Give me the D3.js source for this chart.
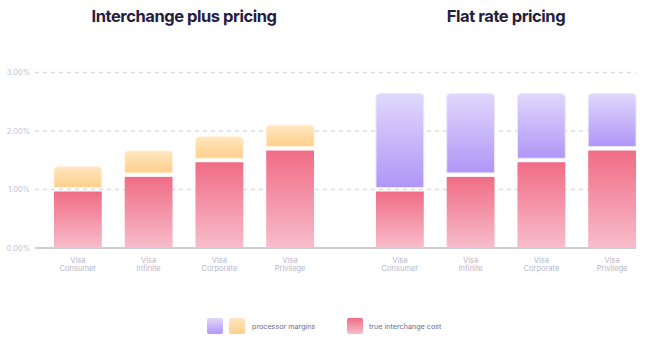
<!DOCTYPE html>
<html><head><meta charset="utf-8">
<script src="https://cdn.jsdelivr.net/npm/d3@7"></script>
<style>html,body{margin:0;padding:0;background:#fff;}svg{display:block;font-family:Inter,"Open Sans",sans-serif;}</style>
</head><body>
<svg id="c" width="652" height="347"></svg>
<script>
const categories = [["Visa","Consumer"],["Visa","Infinite"],["Visa","Corporate"],["Visa","Privilege"]];
const interchange = [1.0, 1.25, 1.5, 1.7];
const marginsPlus = [0.39, 0.41, 0.4, 0.4];
const marginsFlat = [1.64, 1.39, 1.14, 0.94];
const yTicks = [0, 1, 2, 3];
const titles = ["Interchange plus pricing", "Flat rate pricing"];
const legendItems = ["processor margins", "true interchange cost"];

const svg = d3.select("#c");
const y = d3.scaleLinear().domain([0, 3]).range([248, 72.5]);
const keys = categories.map(c => c.join(" "));
const xL = d3.scaleBand().domain(keys).range([42.5, 325.5]).paddingInner(0.324).paddingOuter(0.162);
const xR = d3.scaleBand().domain(keys).range([364.5, 647.5]).paddingInner(0.324).paddingOuter(0.162);

const defs = svg.append("defs");
function grad(id, top, bot) {
  const g = defs.append("linearGradient").attr("id", id).attr("x1", 0).attr("y1", 0).attr("x2", 0).attr("y2", 1);
  g.append("stop").attr("offset", "0%").attr("stop-color", top);
  g.append("stop").attr("offset", "100%").attr("stop-color", bot);
}
grad("gRed", "#F06C86", "#F8BDCB");
grad("gOr", "#FFE6BF", "#FFD08C");
grad("gPu", "#E0D8FC", "#B096F7");

// grid
const gridX0 = 35, gridX1 = 636;
svg.append("g").selectAll("line").data(yTicks.filter(d => d > 0)).join("line")
  .attr("x1", gridX0).attr("x2", gridX1).attr("y1", d => y(d)).attr("y2", d => y(d))
  .attr("stroke", "#DDDBE7").attr("stroke-width", 1.5).attr("stroke-dasharray", "4,4");

// y labels
svg.append("g").selectAll("text").data(yTicks).join("text")
  .attr("x", 30).attr("y", d => y(d)).attr("dy", "0.35em").attr("text-anchor", "end")
  .attr("font-size", 7.5).attr("fill", "#C4C2D4").text(d => d3.format(".2f")(d) + "%");

function drawGroup(x, margins, fillId, strokeCol) {
  const g = svg.append("g");
  const bw = x.bandwidth();
  g.selectAll("rect.red").data(keys).join("rect")
    .attr("x", d => x(d)).attr("width", bw)
    .attr("y", (d, i) => y(interchange[i]) + 2)
    .attr("height", (d, i) => y(0) - y(interchange[i]) - 2)
    .attr("fill", "url(#gRed)");
  g.selectAll("path.up").data(keys).join("path")
    .attr("d", (d, i) => {
      const x0 = x(d), x1 = x0 + bw;
      const yb = y(interchange[i]) - 2, yt = y(interchange[i] + margins[i]);
      const r = 4;
      return `M${x0},${yb}L${x0},${yt + r}Q${x0},${yt} ${x0 + r},${yt}L${x1 - r},${yt}Q${x1},${yt} ${x1},${yt + r}L${x1},${yb}Z`;
    })
    .attr("fill", `url(#${fillId})`).attr("stroke", strokeCol).attr("stroke-width", 1);
  g.selectAll("text").data(categories).join("text")
    .attr("text-anchor", "middle").attr("font-size", 7.5).attr("fill", "#B8B6CA")
    .each(function(d, i) {
      const t = d3.select(this);
      const cx = x(keys[i]) + bw / 2;
      t.append("tspan").attr("x", cx).attr("y", 263).text(d[0]);
      t.append("tspan").attr("x", cx).attr("y", 271).text(d[1]);
    });
}
drawGroup(xL, marginsPlus, "gOr", "#FFF1DA");
drawGroup(xR, marginsFlat, "gPu", "#EEE8FF");

// baseline
svg.append("line").attr("x1", gridX0).attr("x2", gridX1).attr("y1", y(0)).attr("y2", y(0))
  .attr("stroke", "#CFCDDC").attr("stroke-width", 2);

// titles
const tx = [(xL.range()[0] + xL.range()[1]) / 2, (xR.range()[0] + xR.range()[1]) / 2];
svg.selectAll("text.title").data(titles).join("text").attr("class", "title")
  .attr("x", (d, i) => tx[i]).attr("y", 22).attr("text-anchor", "middle")
  .attr("font-size", 16.5).attr("font-weight", 700).attr("letter-spacing", -0.45)
  .attr("fill", "#24213F").text(d => d);

// legend
const lg = svg.append("g");
const sq = [[207, "url(#gPu)"], [229, "url(#gOr)"], [347, "url(#gRed)"]];
lg.selectAll("rect").data(sq).join("rect")
  .attr("x", d => d[0]).attr("y", 318).attr("width", 16).attr("height", 16).attr("rx", 2)
  .attr("fill", d => d[1]);
lg.selectAll("text").data(legendItems).join("text")
  .attr("x", (d, i) => [252, 369][i]).attr("y", 326).attr("dy", "0.35em")
  .attr("font-size", 7.2).attr("fill", "#6F6B8C").text(d => d);
</script>
</body></html>
